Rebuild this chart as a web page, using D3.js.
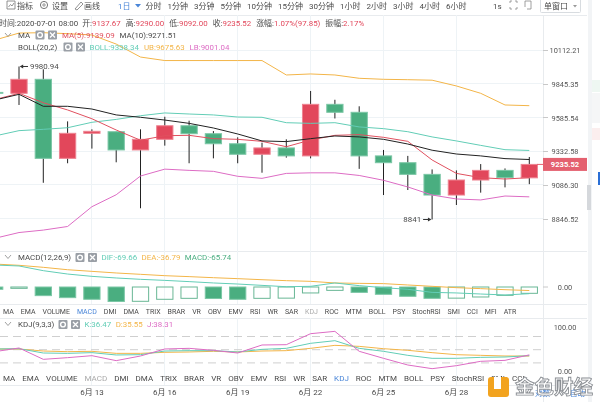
<!DOCTYPE html>
<html>
<meta charset="utf-8">
<style>
html, body { margin: 0; padding: 0; background: #fff; overflow: hidden; }
svg { filter: blur(0.3px); }
text { font-family: Roboto, "Noto Sans CJK SC", sans-serif; }
.grid line { stroke: #eef3f6; shape-rendering: crispEdges; }
.y-axis path { display: none; }
.y-axis line { stroke: #c8c8c8; shape-rendering: crispEdges; }
.y-axis text { fill: #555; font-size: 7.4px; text-anchor: middle; }
.x-axis path, .x-axis line { display: none; }
.x-axis text { fill: #4a4a4a; font-size: 8px; }
</style>
<body>
<script src="https://d3js.org/d3.v7.min.js"></script>
<script>

////*Data*////
const dates = ["6月 9","6月 10","6月 11","6月 12","6月 13","6月 14","6月 15","6月 16","6月 17","6月 18","6月 19","6月 20","6月 21","6月 22","6月 23","6月 24","6月 25","6月 26","6月 27","6月 28","6月 29","6月 30","7月 1"];
const dateTicks = ["6月 13","6月 16","6月 19","6月 22","6月 25","6月 28"];

const open  = [9778,9771,9880,9280,9466,9478,9342,9421,9523,9463,9388,9310,9357,9298,9686,9625,9298,9248,9163,9014,9122,9192,9137.67];
const close = [9771,9880,9280,9466,9481,9342,9421,9523,9463,9388,9310,9357,9298,9686,9625,9298,9248,9163,9014,9122,9192,9139,9235.52];
const high  = [9800,9980.94,9959,9556,9496,9478,9496,9591,9561,9483,9436,9396,9421,9789,9721,9671,9342,9298,9199,9192,9238,9206,9290];
const low   = [9740,9681,9102,9244,9352,9251,8920,9374,9244,9280,9244,9175,9285,9280,9578,9203,9014,9050,8841,8943,9031,9069,9092];

const ma5   = [9722,9771,9698,9643,9576,9491,9414,9448,9451,9426,9421,9406,9366,9416,9451,9456,9436,9406,9268,9170,9139,9129,9139.09];
const ma10  = [9719,9763,9671,9671,9650,9605,9587,9566,9541,9506,9461,9409,9404,9426,9446,9439,9421,9386,9340,9312,9298,9278,9271.51];
const boll  = [9446,9486,9496,9508,9549,9571,9599,9620,9612,9605,9589,9587,9546,9541,9546,9514,9501,9478,9439,9409,9376,9344,9338.34];
const ub    = [10192,10249,10252,10244,10233,10160,10056,10028,10028,10028,10028,10028,9914,9922,9914,9888,9880,9877,9873,9828,9771,9681,9675.63];
const lb    = [8710,8750,8767,8792,8931,9016,9151,9201,9192,9185,9149,9134,9170,9174,9174,9155,9120,9072,9014,8986,8979,9007,9001.04];
const priceTicks = [10112.21,9845.35,9585.54,9332.58,9086.30,8846.52];
const lastPrice = 9235.52;

const macd = [-24,-14,-90,-111,-128,-151,-149,-128,-118,-120,-128,-118,-116,-62,-35,-56,-76,-97,-118,-116,-104,-87,-65.74];
const dif  = [229,219,170,135,111,94,80,69,56,42,31,17,3,7,42,14,-7,-24,-56,-62,-73,-83,-69.66];
const dea  = [239,226,205,180,163,146,132,118,108,97,87,76,66,59,42,38,35,21,7,-7,-17,-28,-36.79];

const kLine = [51.6,52.3,42.5,41.7,43.3,38,38.7,47,47.8,47.8,44.8,50.8,53.1,64.5,70.5,53.1,46.3,37.2,30.4,30.4,32.6,33.4,36.47];
const dLine = [51.6,51.6,47,45.5,46.3,41.7,41.7,44,44.8,46.3,44.8,47,47.8,53.1,59.9,57.6,52.3,48.6,43.3,38.7,37.2,35.7,35.55];
const jLine = [45.5,53.9,28.1,31.9,36.4,25.1,35.7,51.6,53.1,48.6,42.5,60.7,61.4,86.4,91.7,46.3,30.4,15.2,6.9,13.7,23.6,25.8,38.31];
const kdjLevels = [80,50,20];
const kdjTicks = [100,0];

const toolbarLeft = ["1日","分时","1分钟","3分钟","5分钟","10分钟","15分钟","30分钟","1小时","2小时","3小时","4小时","6小时"];
const tabs = ["MA","EMA","VOLUME","MACD","DMI","DMA","TRIX","BRAR","VR","OBV","EMV","RSI","WR","SAR","KDJ","ROC","MTM","BOLL","PSY","StochRSI","SMI","CCI","MFI","ATR"];

////*Set-up*////
const width = 600, height = 402;
const axisX = 543, rightEdge = 587;
const RED = "#e2475b", GREEN = "#4aae80", TEAL = "#62cdb6", ORANGE = "#f3b548", PINK = "#dd6cc4", BLUE = "#4a86d8";
const TEXT = "#4a4a4a";
const FONT = 7.9;

const svg = d3.select("body").append("svg")
   .attr("width", width).attr("height", height)
   .style("display", "block");

const defs = svg.append("defs");
function addClip(id, top, bottom) {
   defs.append("clipPath").attr("id", id).append("rect")
      .attr("x", 0).attr("y", top).attr("width", axisX).attr("height", bottom - top);
}
addClip("clip-main", 15, 251);
addClip("clip-macd", 251, 304);
addClip("clip-kdj", 318, 385);

const xScale = d3.scaleBand().domain(dates).range([-17.45, 541.45]).paddingInner(0.33).paddingOuter(0.165);
const xMid = d => xScale(d) + xScale.bandwidth() / 2;

// the price axis is logarithmic, the printed ticks are evenly spaced
const yScale = d3.scaleLog().domain([10112.21, 8846.52]).range([50, 218.7]);
const macdScale = d3.scaleLinear().domain([0, -100]).range([287, 296.6]);
const kdjScale = d3.scaleLinear().domain([100, 0]).range([327.7, 371.7]);

////*Panels and separators*////
[15, 251, 304, 318, 385].forEach(y => {
   svg.append("line").attr("x1", 0).attr("x2", rightEdge).attr("y1", y + .5).attr("y2", y + .5)
      .attr("stroke", "#e8ebee");
});
svg.append("line").attr("x1", axisX + .5).attr("x2", axisX + .5).attr("y1", 15).attr("y2", 402).attr("stroke", "#e8ebee");

// vertical grid in all three panes
[[15, 251], [251, 304], [318, 385]].forEach(([a, b]) => {
   svg.append("g").attr("class", "grid")
      .selectAll("line").data(dateTicks).join("line")
      .attr("x1", d => xMid(d)).attr("x2", d => xMid(d))
      .attr("y1", a).attr("y2", b);
});
svg.append("g").attr("class", "grid")
   .selectAll("line").data(priceTicks).join("line")
   .attr("x1", 0).attr("x2", axisX)
   .attr("y1", d => yScale(d)).attr("y2", d => yScale(d));

////*Main pane*////
const main = svg.append("g").attr("clip-path", "url(#clip-main)");

main.selectAll("line.wick").data(dates).join("line")
   .attr("class", "wick")
   .attr("x1", d => xMid(d)).attr("x2", d => xMid(d))
   .attr("y1", (d, i) => yScale(high[i])).attr("y2", (d, i) => yScale(low[i]))
   .attr("stroke", "#222").attr("stroke-width", 1);

main.selectAll("rect.body").data(dates).join("rect")
   .attr("class", "body")
   .attr("x", d => xScale(d)).attr("width", xScale.bandwidth())
   .attr("y", (d, i) => yScale(Math.max(open[i], close[i])))
   .attr("height", (d, i) => Math.abs(yScale(open[i]) - yScale(close[i])))
   .attr("fill", (d, i) => close[i] >= open[i] ? RED : GREEN)
   .attr("stroke", (d, i) => close[i] >= open[i] ? "#ee8492" : "#7cc7a6")
   .attr("stroke-width", 1);

function drawLine(parent, values, scale, color) {
   const line = d3.line().x((v, i) => xMid(dates[i])).y(v => scale(v));
   parent.append("path").datum(values)
      .attr("d", line)
      .attr("fill", "none")
      .attr("stroke", color)
      .attr("stroke-width", 1);
}
drawLine(main, ub, yScale, ORANGE);
drawLine(main, lb, yScale, PINK);
drawLine(main, boll, yScale, TEAL);
drawLine(main, ma5, yScale, "#e0505f");
drawLine(main, ma10, yScale, "#222");

// price axis
const yAxis = svg.append("g").attr("class", "y-axis")
   .attr("transform", `translate(${axisX},0)`)
   .call(d3.axisRight(yScale).tickValues(priceTicks).tickSize(5).tickFormat(d3.format(".2f")));
yAxis.selectAll("text").attr("x", 22).attr("dy", ".35em");

// last price tag
svg.append("rect").attr("x", axisX).attr("y", yScale(lastPrice) - 6.5).attr("width", rightEdge - axisX).attr("height", 13)
   .attr("fill", "#e4606f");
svg.append("text").attr("x", 565).attr("y", yScale(lastPrice) + 2.8)
   .attr("text-anchor", "middle").attr("fill", "#fff").attr("font-size", 7.6).attr("font-weight", 700)
   .text(d3.format(".2f")(lastPrice));
svg.append("line").attr("x1", 537).attr("x2", 543).attr("y1", yScale(lastPrice)).attr("y2", yScale(lastPrice))
   .attr("stroke", "#e4606f");

// high / low callouts
function callout(i, value, label, side) {
   const x = xMid(dates[i]) + side * 3, y = yScale(value);
   svg.append("line").attr("x1", x).attr("x2", x + side * 6).attr("y1", y).attr("y2", y).attr("stroke", "#333");
   svg.append("path").attr("d", d3.symbol(d3.symbolTriangle, 7)())
      .attr("transform", `translate(${x},${y}) rotate(${side > 0 ? -90 : 90})`).attr("fill", "#333");
   svg.append("text").attr("x", x + side * 8).attr("y", y + 2.8)
      .attr("text-anchor", side > 0 ? "start" : "end")
      .attr("fill", TEXT).attr("font-size", FONT).text(label);
}
callout(dates.indexOf("6月 10"), 9980.94, "9980.94", 1);
callout(dates.indexOf("6月 27"), 8841, "8841", -1);

////*MACD pane*////
const macdPane = svg.append("g").attr("clip-path", "url(#clip-macd)");
macdPane.selectAll("rect").data(dates).join("rect")
   .attr("x", d => xScale(d)).attr("width", xScale.bandwidth())
   .attr("y", macdScale(0))
   .attr("height", (d, i) => macdScale(macd[i]) - macdScale(0))
   // falling bars are solid, rising ones are outlined
   .attr("fill", (d, i) => i > 0 && macd[i] > macd[i - 1] ? "none" : GREEN)
   .attr("stroke", (d, i) => i > 0 && macd[i] > macd[i - 1] ? "#69b795" : "#7cc7a6")
   .attr("stroke-width", 1);
drawLine(macdPane, dea, macdScale, ORANGE);
drawLine(macdPane, dif, macdScale, TEAL);

svg.append("line").attr("x1", axisX).attr("x2", axisX + 5).attr("y1", macdScale(0)).attr("y2", macdScale(0)).attr("stroke", "#c8c8c8");
svg.append("text").attr("x", 565).attr("y", macdScale(0) + 2.7).attr("text-anchor", "middle")
   .attr("fill", "#555").attr("font-size", 7.4).text("0.00");

////*KDJ pane*////
const kdjPane = svg.append("g").attr("clip-path", "url(#clip-kdj)");
kdjPane.selectAll("line").data(kdjLevels).join("line")
   .attr("x1", 0).attr("x2", axisX)
   .attr("y1", d => kdjScale(d)).attr("y2", d => kdjScale(d))
   .attr("stroke", "#cfcfcf").attr("stroke-dasharray", "8 5");
drawLine(kdjPane, dLine, kdjScale, ORANGE);
drawLine(kdjPane, kLine, kdjScale, TEAL);
drawLine(kdjPane, jLine, kdjScale, PINK);

svg.append("g").selectAll("text").data(kdjTicks).join("text")
   .attr("x", 565).attr("y", d => kdjScale(d) + 2.7).attr("text-anchor", "middle")
   .attr("fill", "#555").attr("font-size", 7.4)
   .text(d => d3.format(".2f")(d));

////*Date axis*////
const xAxis = svg.append("g").attr("class", "x-axis")
   .attr("transform", "translate(0,385)")
   .call(d3.axisBottom(xScale).tickValues(dateTicks).tickSize(0).tickPadding(4));

////*Text rows*////
// lays out a row of runs left to right, measuring each one
function flowRow(items, x, y, gap, size) {
   let cursor = x;
   items.forEach(item => {
      const t = svg.append("text").attr("x", cursor).attr("y", y)
         .attr("font-size", size).attr("fill", item.color || TEXT).text(item.text);
      cursor += t.node().getComputedTextLength() + (item.gap === undefined ? gap : item.gap);
   });
}

function iconBox(x, y, glyph) {
   svg.append("rect").attr("x", x).attr("y", y - 4.5).attr("width", 9).attr("height", 9).attr("rx", 1).attr("fill", "#9a9fa6");
   if (glyph === "gear") {
      svg.append("circle").attr("cx", x + 4.5).attr("cy", y).attr("r", 2.4).attr("fill", "none").attr("stroke", "#fff").attr("stroke-width", 1.4);
   } else {
      svg.append("path").attr("d", `M${x + 2},${y - 2.5}L${x + 7},${y + 2.5}M${x + 7},${y - 2.5}L${x + 2},${y + 2.5}`)
         .attr("stroke", "#fff").attr("stroke-width", 1.3);
   }
}
function chevron(x, y) {
   svg.append("path").attr("d", `M${x},${y - 2}L${x + 3},${y + 1.5}L${x + 6},${y - 2}`)
      .attr("fill", "none").attr("stroke", "#888").attr("stroke-width", .8);
}

// toolbar
svg.append("text").attr("x", 17).attr("y", 8.5).attr("font-size", 8).attr("fill", TEXT).text("指标");
svg.append("text").attr("x", 52).attr("y", 8.5).attr("font-size", 8).attr("fill", TEXT).text("设置");
svg.append("text").attr("x", 84).attr("y", 8.5).attr("font-size", 8).attr("fill", TEXT).text("画线");
svg.append("path").attr("d", "M7,1H15V9H7ZM8.5,7L10.5,4.5L12,6L14,3").attr("fill", "none").attr("stroke", "#777").attr("stroke-width", .8);
svg.append("circle").attr("cx", 44).attr("cy", 5).attr("r", 3.6).attr("fill", "none").attr("stroke", "#777");
svg.append("circle").attr("cx", 44).attr("cy", 5).attr("r", 1.2).attr("fill", "none").attr("stroke", "#777").attr("stroke-width", .8);
svg.append("path").attr("d", "M75,9L81,2L83,4L77,10Z").attr("fill", "none").attr("stroke", "#777").attr("stroke-width", .8);

flowRow(toolbarLeft.map((t, i) => ({ text: t, color: i === 0 ? BLUE : TEXT, gap: i === 0 ? 15 : 6 })), 118, 8.5, 6, 8);
svg.append("path").attr("d", "M135,4H141L138,7.5Z").attr("fill", BLUE);
svg.append("text").attr("x", 493).attr("y", 8.5).attr("font-size", 8).attr("fill", TEXT).text("1s");
svg.append("path").attr("d", "M510,3V1H512M515,1H517V3M517,7V9H515M512,9H510V7").attr("fill", "none").attr("stroke", "#888").attr("stroke-width", .8);
svg.append("path").attr("d", "M525,1H531V9M525,1V7M527,9H531").attr("fill", "none").attr("stroke", "#888").attr("stroke-width", .8);
svg.append("rect").attr("x", 540.5).attr("y", -3).attr("width", 40).attr("height", 15.5).attr("rx", 1).attr("fill", "#fff").attr("stroke", "#d8dce0");
svg.append("text").attr("x", 544).attr("y", 8.5).attr("font-size", 8).attr("fill", TEXT).text("单窗口");
svg.append("path").attr("d", "M573,5H577L575,7.5Z").attr("fill", "#999");

// quote row
const v = RED;
flowRow([
   { text: "时间:2020-07-01 08:00", gap: 4 },
   { text: "开:", gap: 0 }, { text: "9137.67", color: v, gap: 5 },
   { text: "高:", gap: 0 }, { text: "9290.00", color: v, gap: 5 },
   { text: "低:", gap: 0 }, { text: "9092.00", color: v, gap: 5 },
   { text: "收:", gap: 0 }, { text: "9235.52", color: v, gap: 5 },
   { text: "涨幅:", gap: 0 }, { text: "1.07%(97.85)", color: v, gap: 5 },
   { text: "振幅:", gap: 0 }, { text: "2.17%", color: v, gap: 0 }
], -1, 25.8, 4, FONT);

// indicator legends
chevron(5, 35);
flowRow([{ text: "MA" }], 18, 37.8, 0, FONT);
iconBox(35.5, 35, "gear");
iconBox(48, 35, "close");
flowRow([{ text: "MA(5):9139.09", color: "#e0505f" }, { text: "MA(10):9271.51" }], 62, 37.8, 5, FONT);
flowRow([{ text: "BOLL(20,2)" }], 18, 49.8, 0, FONT);
iconBox(63.5, 47, "gear");
iconBox(76, 47, "close");
flowRow([{ text: "BOLL:9338.34", color: TEAL }, { text: "UB:9675.63", color: ORANGE }, { text: "LB:9001.04", color: PINK }], 89.5, 49.8, 5, FONT);

chevron(5, 257);
flowRow([{ text: "MACD(12,26,9)" }], 18, 260.2, 0, FONT);
iconBox(75.5, 257.5, "gear");
iconBox(88, 257.5, "close");
flowRow([{ text: "DIF:-69.66", color: TEAL }, { text: "DEA:-36.79", color: ORANGE }, { text: "MACD:-65.74", color: GREEN }], 101.5, 260.2, 4.5, FONT);

chevron(5, 324);
flowRow([{ text: "KDJ(9,3,3)" }], 18, 327.2, 0, FONT);
iconBox(58.5, 324.5, "gear");
iconBox(71, 324.5, "close");
flowRow([{ text: "K:36.47", color: TEAL }, { text: "D:35.55", color: ORANGE }, { text: "J:38.31", color: PINK }], 84.5, 327.2, 4.5, FONT);

// indicator tab rows
flowRow(tabs.map(t => ({ text: t, color: t === "MACD" ? BLUE : t === "KDJ" ? "#aaa" : TEXT })), 3, 313.8, 7, 7);
flowRow(tabs.slice(0, 22).map(t => ({ text: t, color: t === "KDJ" ? BLUE : t === "MACD" ? "#aaa" : TEXT })), 3, 381.3, 7, 8);

// date row, right side
svg.append("text").attr("x", 535).attr("y", 396).attr("font-size", 7.5).attr("fill", BLUE).text("对数");
svg.append("text").attr("x", 570).attr("y", 396).attr("font-size", 7.5).attr("fill", BLUE).text("自动");

////*Sidebar scraps at the right edge*////
const sideRects = [
   [588, 0, 4, 402, "#f2f4f6"],
   [587, 185, 4, 25, "#d5d8dc"],
   [592, 80, 8, 12, "#eef7f2"],
   [592, 93, 8, 30, "#f5f6f7"],
   [592, 128, 8, 12, "#fbeeee"],
   [598, 172, 2, 13, "#2a6fd6"]
];
svg.append("g").selectAll("rect").data(sideRects).join("rect")
   .attr("x", d => d[0]).attr("y", d => d[1]).attr("width", d => d[2]).attr("height", d => d[3]).attr("fill", d => d[4]);

////*Watermark*////
svg.append("rect").attr("x", 488).attr("y", 377).attr("width", 21).attr("height", 20).attr("rx", 3).attr("fill", "#f2a31f");
svg.append("rect").attr("x", 494).attr("y", 377).attr("width", 7).attr("height", 12).attr("fill", "#fff");
svg.append("rect").attr("x", 501).attr("y", 377).attr("width", 6).attr("height", 6).attr("fill", "#f2a31f");
svg.append("text").attr("x", 515).attr("y", 394).attr("font-size", 19.5).attr("font-weight", 700)
   .attr("fill", "#fff").attr("stroke", "#8b8f94").attr("stroke-width", .9)
   .text("金色财经");

</script>
</body>
</html>
